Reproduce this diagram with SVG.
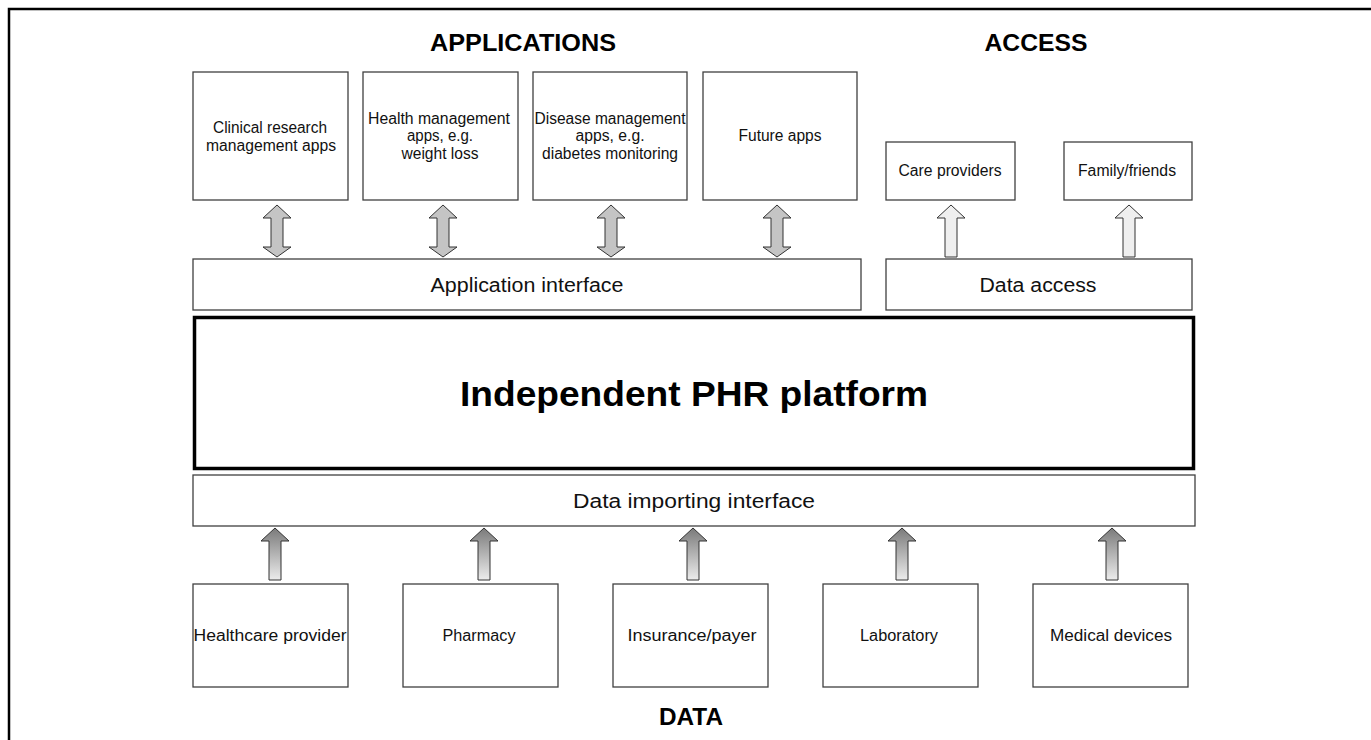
<svg xmlns="http://www.w3.org/2000/svg" width="1371" height="740" viewBox="0 0 1371 740">
<style>
.box{fill:#fff;stroke:#404040;stroke-width:1.3}
.t{font-family:"Liberation Sans",Arial,sans-serif;font-size:16px;fill:#111;text-anchor:middle}
.m{font-family:"Liberation Sans",Arial,sans-serif;font-size:20px;fill:#111;text-anchor:middle}
.h{font-family:"Liberation Sans",Arial,sans-serif;font-size:23px;font-weight:bold;fill:#000;text-anchor:middle}
.dbl{fill:#c4c4c4;stroke:#333;stroke-width:1}
.up{fill:url(#g);stroke:#333;stroke-width:1}
.upl{fill:#efefef;stroke:#333;stroke-width:1}
</style>
<defs>
<linearGradient id="g" x1="0" y1="0" x2="0" y2="1">
<stop offset="0" stop-color="#7a7a7a"/>
<stop offset="1" stop-color="#ececec"/>
</linearGradient>
<path id="da" d="M0,0 L14,13 L6,13 L6,42 L14,42 L0,52 L-14,42 L-6,42 L-6,13 L-14,13 Z"/>
<path id="ua" d="M0,0 L14,13 L6,13 L6,52 L-6,52 L-6,13 L-14,13 Z"/>
</defs>
<rect width="1371" height="740" fill="#fff"/>
<path d="M9,740 L9,9 L1371,9" fill="none" stroke="#000" stroke-width="2.5"/>
<g id="titles">
<text class="h" x="523" y="51" textLength="186" lengthAdjust="spacingAndGlyphs">APPLICATIONS</text>
<text class="h" x="1036" y="51" textLength="103" lengthAdjust="spacingAndGlyphs">ACCESS</text>
<text class="h" x="691" y="725" textLength="64" lengthAdjust="spacingAndGlyphs">DATA</text>
</g>
<g id="app1"><rect class="box" x="193" y="72" width="155" height="128"/><text class="t" x="270" y="133" textLength="114" lengthAdjust="spacingAndGlyphs">Clinical research</text><text class="t" x="271" y="151" textLength="130" lengthAdjust="spacingAndGlyphs">management apps</text></g>
<g id="app2"><rect class="box" x="363" y="72" width="155" height="128"/><text class="t" x="439" y="124" textLength="142" lengthAdjust="spacingAndGlyphs">Health management</text><text class="t" x="440" y="141" textLength="66" lengthAdjust="spacingAndGlyphs">apps, e.g.</text><text class="t" x="440" y="159" textLength="77" lengthAdjust="spacingAndGlyphs">weight loss</text></g>
<g id="app3"><rect class="box" x="533" y="72" width="154" height="128"/><text class="t" x="610" y="124" textLength="151" lengthAdjust="spacingAndGlyphs">Disease management</text><text class="t" x="610" y="141" textLength="69" lengthAdjust="spacingAndGlyphs">apps, e.g.</text><text class="t" x="610" y="159" textLength="136" lengthAdjust="spacingAndGlyphs">diabetes monitoring</text></g>
<g id="app4"><rect class="box" x="703" y="72" width="154" height="128"/><text class="t" x="780" y="141" textLength="83" lengthAdjust="spacingAndGlyphs">Future apps</text></g>
<g id="care"><rect class="box" x="886" y="142" width="129" height="58"/><text class="t" x="950" y="176" textLength="103" lengthAdjust="spacingAndGlyphs">Care providers</text></g>
<g id="family"><rect class="box" x="1064" y="142" width="128" height="58"/><text class="t" x="1127" y="176" textLength="98" lengthAdjust="spacingAndGlyphs">Family/friends</text></g>
<g id="appif"><rect class="box" x="193" y="259" width="668" height="51"/><text class="m" x="527" y="292" textLength="193" lengthAdjust="spacingAndGlyphs">Application interface</text></g>
<g id="access"><rect class="box" x="886" y="259" width="306" height="51"/><text class="m" x="1038" y="292" textLength="117" lengthAdjust="spacingAndGlyphs">Data access</text></g>
<g id="platform"><rect x="194.5" y="317.5" width="999" height="151" fill="#fff" stroke="#000" stroke-width="3.5"/><text x="694" y="406" font-family="Liberation Sans,Arial,sans-serif" font-size="35" font-weight="bold" text-anchor="middle" fill="#000" textLength="468" lengthAdjust="spacingAndGlyphs">Independent PHR platform</text></g>
<g id="importif"><rect class="box" x="193" y="475" width="1002" height="51"/><text class="m" x="694" y="508" textLength="242" lengthAdjust="spacingAndGlyphs">Data importing interface</text></g>
<g id="d1"><rect class="box" x="193" y="584" width="155" height="103"/><text class="t" x="270" y="641" textLength="153" lengthAdjust="spacingAndGlyphs">Healthcare provider</text></g>
<g id="d2"><rect class="box" x="403" y="584" width="155" height="103"/><text class="t" x="479" y="641" textLength="73" lengthAdjust="spacingAndGlyphs">Pharmacy</text></g>
<g id="d3"><rect class="box" x="613" y="584" width="155" height="103"/><text class="t" x="692" y="641" textLength="129" lengthAdjust="spacingAndGlyphs">Insurance/payer</text></g>
<g id="d4"><rect class="box" x="823" y="584" width="155" height="103"/><text class="t" x="899" y="641" textLength="78" lengthAdjust="spacingAndGlyphs">Laboratory</text></g>
<g id="d5"><rect class="box" x="1033" y="584" width="155" height="103"/><text class="t" x="1111" y="641" textLength="122" lengthAdjust="spacingAndGlyphs">Medical devices</text></g>
<g id="connectors">
<use href="#da" class="dbl" x="277" y="205"/>
<use href="#da" class="dbl" x="443" y="205"/>
<use href="#da" class="dbl" x="611" y="205"/>
<use href="#da" class="dbl" x="777" y="205"/>
<use href="#ua" class="upl" x="951" y="205"/>
<use href="#ua" class="upl" x="1129" y="205"/>
<use href="#ua" class="up" x="275" y="528"/>
<use href="#ua" class="up" x="484" y="528"/>
<use href="#ua" class="up" x="693" y="528"/>
<use href="#ua" class="up" x="902" y="528"/>
<use href="#ua" class="up" x="1112" y="528"/>
</g>
</svg>
